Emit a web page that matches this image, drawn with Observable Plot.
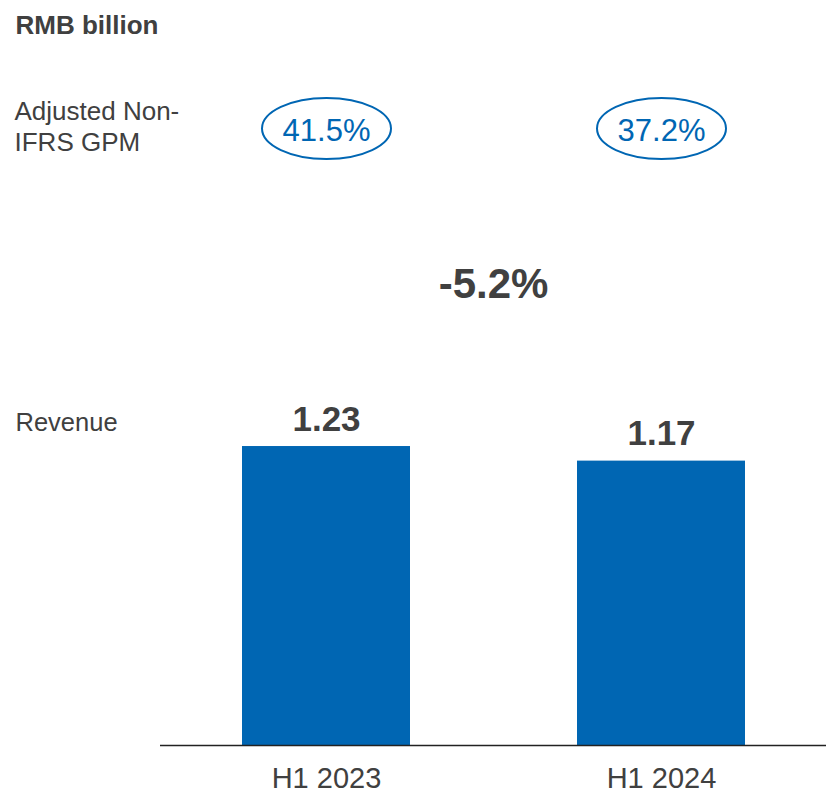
<!DOCTYPE html>
<html>
<head>
<meta charset="utf-8">
<script src="https://cdn.jsdelivr.net/npm/d3@7"></script>
<script src="https://cdn.jsdelivr.net/npm/@observablehq/plot@0.6"></script>
<style>
  html, body { margin: 0; padding: 0; background: #fff; }
  #chart svg { display: block; }
</style>
</head>
<body>
<div id="chart"></div>
<script>
const periods = ["H1 2023", "H1 2024"];
const revenue = [1.23, 1.17];
const gpm = ["41.5%", "37.2%"];
const growthLabel = "-5.2%";
const unitLabel = "RMB billion";
const gpmRowLabel = "Adjusted Non-\nIFRS GPM";
const revenueRowLabel = "Revenue";

const rows = periods.map((p, i) => ({period: p, revenue: revenue[i], gpm: gpm[i]}));

const blue = "#0066b3";
const dark = "#404040";
const font = "'Liberation Sans', Arial, Helvetica, sans-serif";

const ellipse = {
  draw(ctx) {
    const rx = 64.5, ry = 30.5, k = 0.5523;
    ctx.moveTo(rx, 0);
    ctx.bezierCurveTo(rx, ry * k, rx * k, ry, 0, ry);
    ctx.bezierCurveTo(-rx * k, ry, -rx, ry * k, -rx, 0);
    ctx.bezierCurveTo(-rx, -ry * k, -rx * k, -ry, 0, -ry);
    ctx.bezierCurveTo(rx * k, -ry, rx, -ry * k, rx, 0);
    ctx.closePath();
  }
};

const chart = Plot.plot({
  width: 826,
  height: 789,
  marginTop: 0,
  marginBottom: 44,
  marginLeft: 160,
  marginRight: 0,
  style: {fontFamily: font, background: "#fff"},
  x: {domain: periods, paddingInner: 0.5, paddingOuter: 0.244, axis: null},
  y: {domain: [0, 3.065], axis: null},
  marks: [
    Plot.barY(rows, {x: "period", y: "revenue", fill: blue}),
    Plot.ruleY([0], {stroke: "#222", strokeWidth: 1.5}),
    Plot.text(rows, {x: "period", y: "revenue", text: d => d.revenue.toFixed(2),
      lineAnchor: "bottom", dy: -16, fontSize: 35, fontWeight: "bold", fill: dark}),
    Plot.text(rows, {x: "period", text: "period", frameAnchor: "bottom",
      lineAnchor: "bottom", dy: 42, fontSize: 29, fill: dark}),
    Plot.dot(rows, {x: "period", frameAnchor: "top", dy: 128, symbol: ellipse,
      fill: "none", stroke: blue, strokeWidth: 2}),
    Plot.text(rows, {x: "period", text: "gpm", frameAnchor: "top",
      lineAnchor: "bottom", dy: 140, fontSize: 31, fill: blue}),
    Plot.text([growthLabel], {text: d => d, frameAnchor: "top",
      lineAnchor: "bottom", dy: 297, fontSize: 42, fontWeight: "bold", fill: dark}),
    Plot.text([unitLabel], {text: d => d, frameAnchor: "top-left", textAnchor: "start",
      lineAnchor: "bottom", dx: -145, dy: 33, fontSize: 26, fontWeight: "bold", fill: dark}),
    Plot.text([gpmRowLabel], {text: d => d, frameAnchor: "top-left", textAnchor: "start",
      lineAnchor: "bottom", dx: -146, dy: 150, fontSize: 26, lineHeight: 1.19, fill: dark}),
    Plot.text([revenueRowLabel], {text: d => d, frameAnchor: "top-left", textAnchor: "start",
      lineAnchor: "bottom", dx: -145, dy: 430, fontSize: 25.5, fill: dark})
  ]
});
document.getElementById("chart").appendChild(chart);
</script>
</body>
</html>
